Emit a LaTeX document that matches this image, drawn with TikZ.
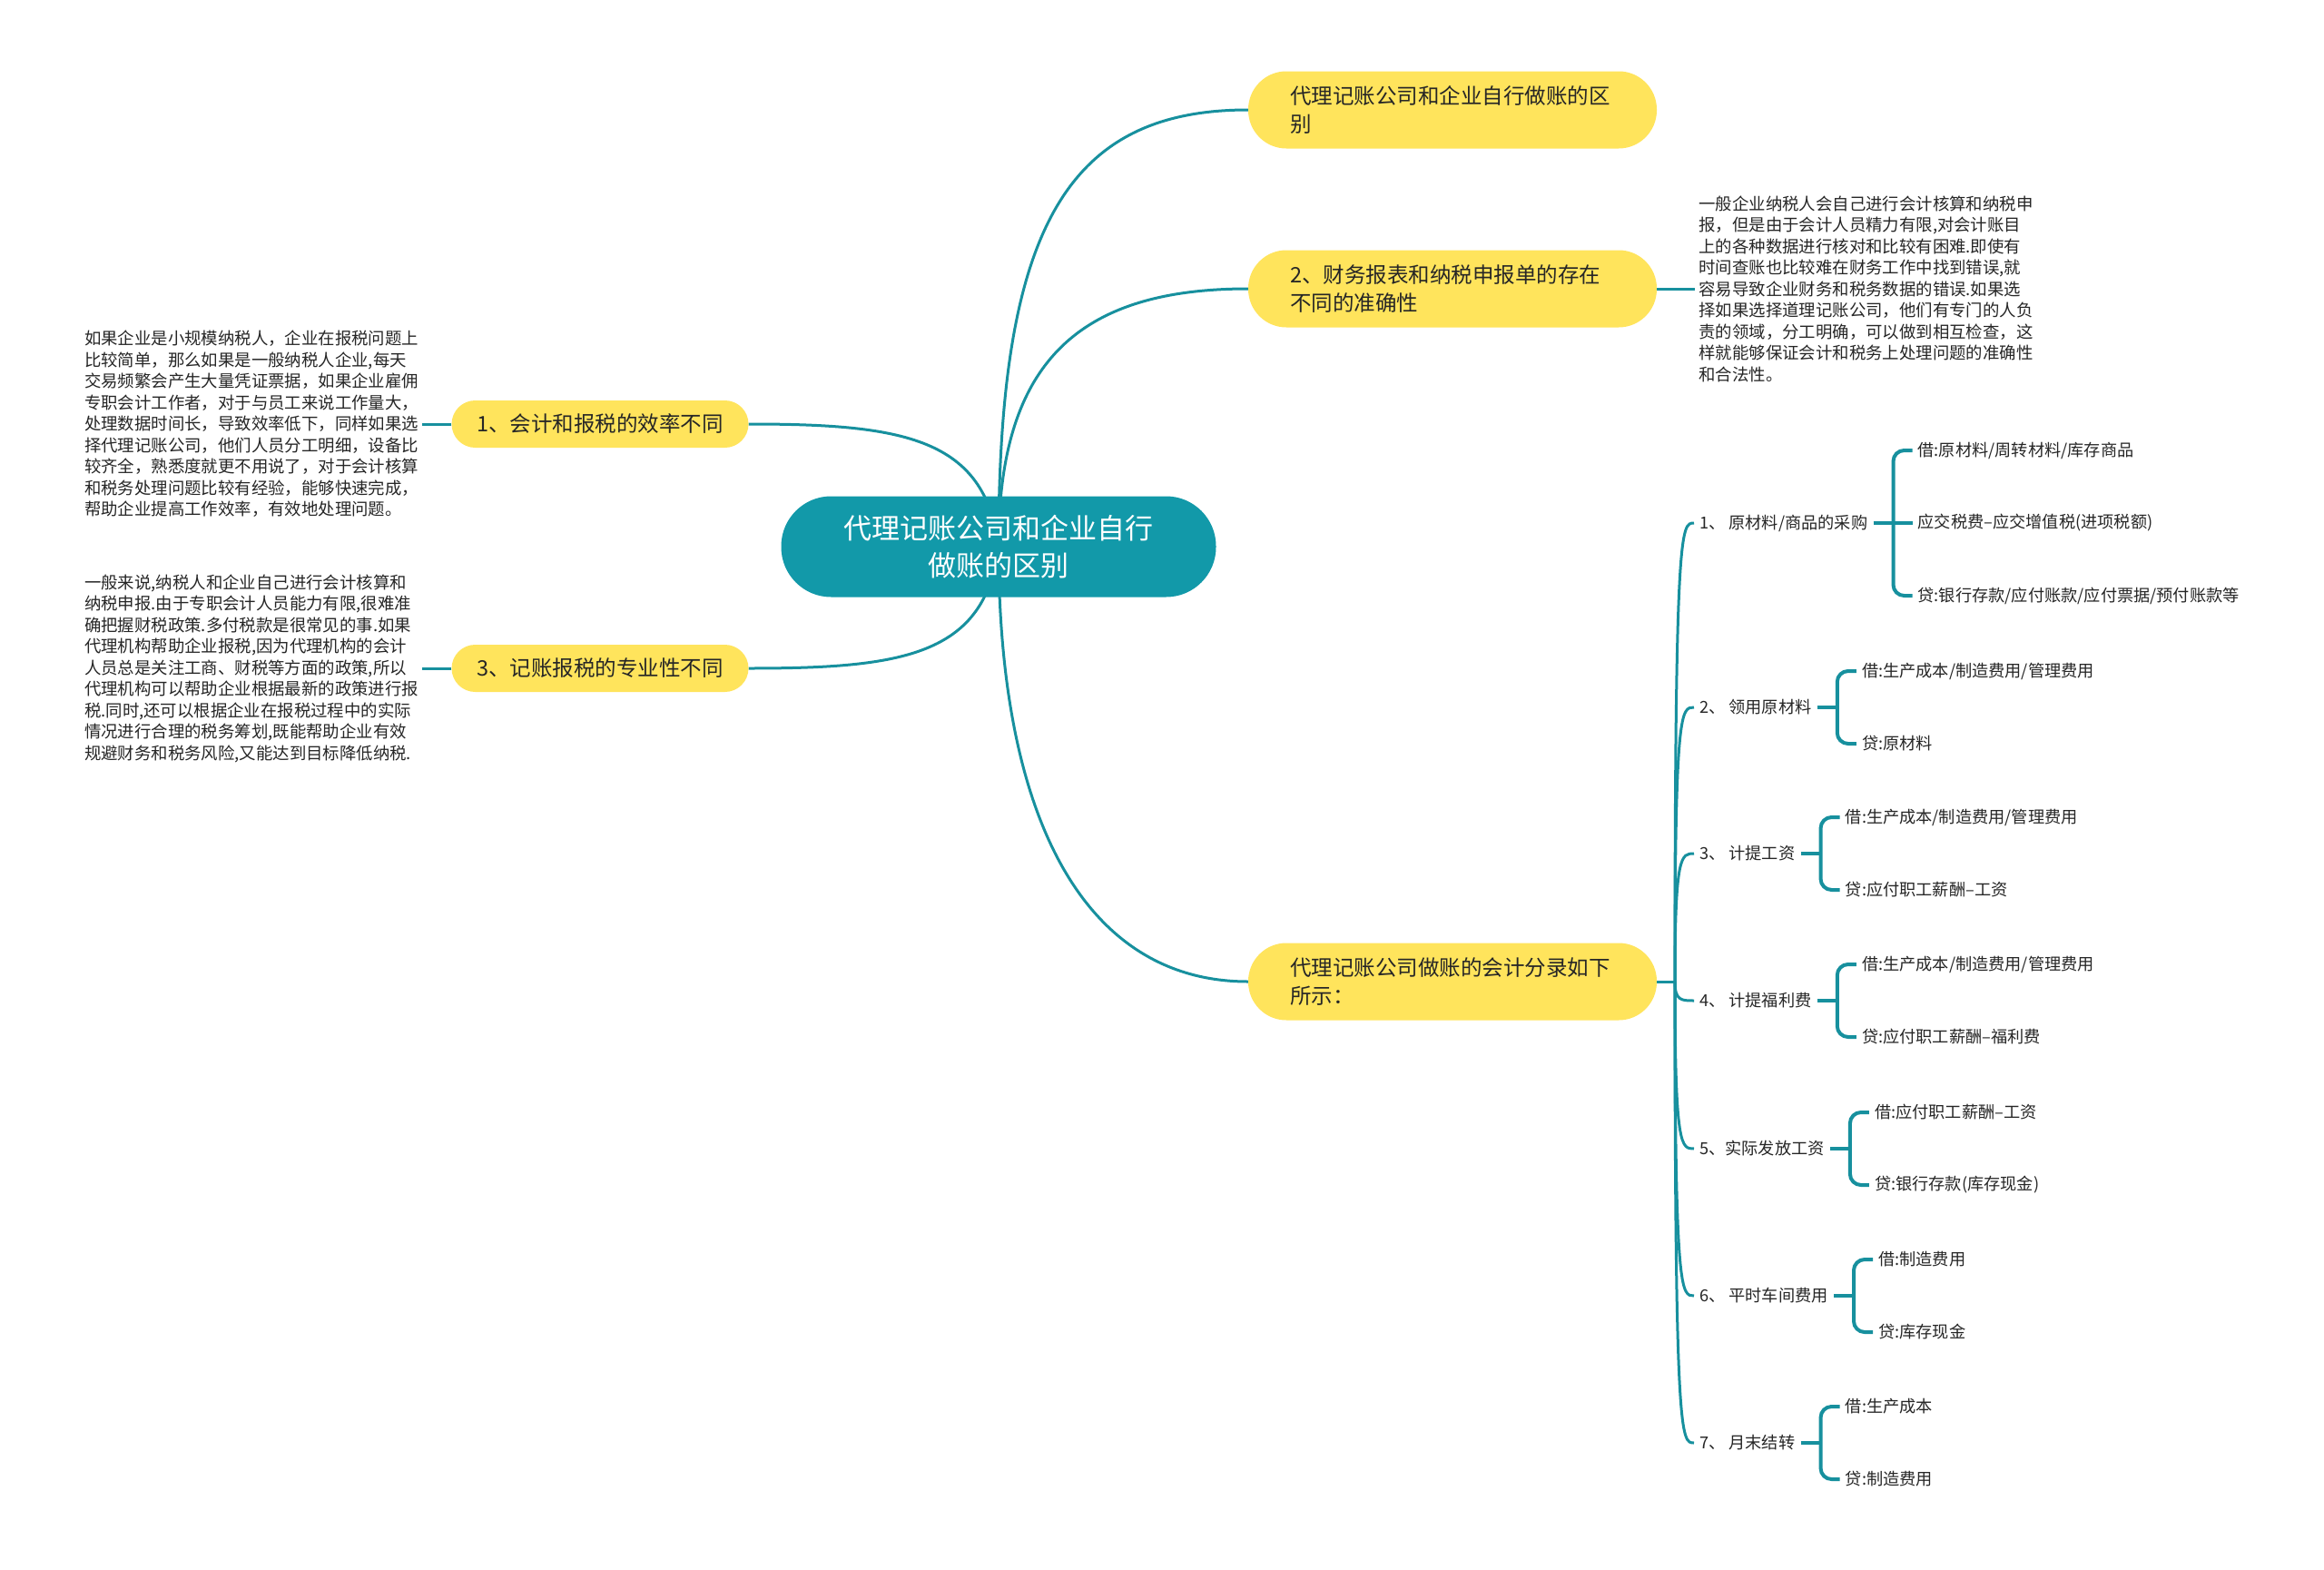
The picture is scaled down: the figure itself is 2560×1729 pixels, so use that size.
\documentclass[tikz,border=0pt]{standalone}
\usepackage{fontspec}
\setmainfont{Noto Sans CJK SC}
\usetikzlibrary{positioning,backgrounds}
\definecolor{cteal}{HTML}{1299A9}
\definecolor{cline}{HTML}{17909E}
\definecolor{cyellow}{HTML}{FFE45C}
\definecolor{ctext}{HTML}{262626}
\tikzset{
  root/.style={fill=cteal, text=white, rounded corners=55pt, minimum width=479pt, minimum height=111pt, align=center, font=\fontsize{31}{41}\selectfont},
  topic/.style={fill=cyellow, text=ctext, rounded corners=42pt, text width=358pt, inner xsep=46pt, minimum height=85pt, align=left, font=\fontsize{23.5}{31}\selectfont},
  subtopic/.style={fill=cyellow, text=ctext, rounded corners=26pt, minimum width=327pt, minimum height=52pt, align=center, font=\fontsize{23.5}{31}\selectfont},
  note/.style={text=ctext, inner sep=4pt, align=left, font=\fontsize{18.4}{23.5}\selectfont},
  item/.style={text=ctext, inner xsep=6pt, inner ysep=2pt, font=\fontsize{18.2}{22}\selectfont},
  leaf/.style={item},
  branch/.style={draw=cline, line width=3pt},
  bline/.style={draw=cline, line width=4pt, rounded corners=12pt},
}
\begin{document}
\begin{tikzpicture}[x=1pt, y=-1pt, node distance=30pt]
  \path[use as bounding box] (0,0) rectangle (2560,1729);

  % center and main topics
  \node[root] (root) at (1100,602) {代理记账公司和企业自行\\做账的区别};
  \node[topic] (t1) at (1600,121) {代理记账公司和企业自行做账的区\\别};
  \node[topic] (t2) at (1600,318) {2、财务报表和纳税申报单的存在\\不同的准确性};
  \node[topic] (t4) at (1600,1081) {代理记账公司做账的会计分录如下\\所示：};
  \node[subtopic] (lt1) at (661,467) {1、会计和报税的效率不同};
  \node[subtopic] (lt3) at (661,736) {3、记账报税的专业性不同};

  % notes
  \node[note, left=32pt of lt1] (n1) {如果企业是小规模纳税人，企业在报税问题上\\比较简单，那么如果是一般纳税人企业,每天\\交易频繁会产生大量凭证票据，如果企业雇佣\\专职会计工作者，对于与员工来说工作量大，\\处理数据时间长，导致效率低下，同样如果选\\择代理记账公司，他们人员分工明细，设备比\\较齐全，熟悉度就更不用说了，对于会计核算\\和税务处理问题比较有经验，能够快速完成，\\帮助企业提高工作效率，有效地处理问题。};
  \node[note, left=32pt of lt3] (n3) {一般来说,纳税人和企业自己进行会计核算和\\纳税申报.由于专职会计人员能力有限,很难准\\确把握财税政策.多付税款是很常见的事.如果\\代理机构帮助企业报税,因为代理机构的会计\\人员总是关注工商、财税等方面的政策,所以\\代理机构可以帮助企业根据最新的政策进行报\\税.同时,还可以根据企业在报税过程中的实际\\情况进行合理的税务筹划,既能帮助企业有效\\规避财务和税务风险,又能达到目标降低纳税.};
  \node[note, right=42pt of t2] (n2) {一般企业纳税人会自己进行会计核算和纳税申\\报，但是由于会计人员精力有限,对会计账目\\上的各种数据进行核对和比较有困难.即使有\\时间查账也比较难在财务工作中找到错误,就\\容易导致企业财务和税务数据的错误.如果选\\择如果选择道理记账公司，他们有专门的人负\\责的领域，分工明确，可以做到相互检查，这\\样就能够保证会计和税务上处理问题的准确性\\和合法性。};

  % entries
  \coordinate (hub) at (1845,1081);
  \node[item, anchor=west] (it1) at (1866,576) {1、 原材料/商品的采购};
  \node[item, anchor=west] (it2) at (1866,779) {2、 领用原材料};
  \node[item, anchor=west] (it3) at (1866,940) {3、 计提工资};
  \node[item, anchor=west] (it4) at (1866,1102) {4、 计提福利费};
  \node[item, anchor=west] (it5) at (1866,1265) {5、实际发放工资};
  \node[item, anchor=west] (it6) at (1866,1427) {6、 平时车间费用};
  \node[item, anchor=west] (it7) at (1866,1589) {7、 月末结转};

  \node[leaf, right=43pt of it1, yshift=80pt] (c11) {借:原材料/周转材料/库存商品};
  \node[leaf, right=43pt of it1] (c12) {应交税费–应交增值税(进项税额)};
  \node[leaf, right=43pt of it1, yshift=-80pt] (c13) {贷:银行存款/应付账款/应付票据/预付账款等};
  \node[leaf, right=43pt of it2, yshift=40pt] (c21) {借:生产成本/制造费用/管理费用};
  \node[leaf, right=43pt of it2, yshift=-40pt] (c22) {贷:原材料};
  \node[leaf, right=43pt of it3, yshift=40pt] (c31) {借:生产成本/制造费用/管理费用};
  \node[leaf, right=43pt of it3, yshift=-40pt] (c32) {贷:应付职工薪酬–工资};
  \node[leaf, right=43pt of it4, yshift=40pt] (c41) {借:生产成本/制造费用/管理费用};
  \node[leaf, right=43pt of it4, yshift=-40pt] (c42) {贷:应付职工薪酬–福利费};
  \node[leaf, right=43pt of it5, yshift=40pt] (c51) {借:应付职工薪酬–工资};
  \node[leaf, right=43pt of it5, yshift=-40pt] (c52) {贷:银行存款(库存现金)};
  \node[leaf, right=43pt of it6, yshift=40pt] (c61) {借:制造费用};
  \node[leaf, right=43pt of it6, yshift=-40pt] (c62) {贷:库存现金};
  \node[leaf, right=43pt of it7, yshift=40pt] (c71) {借:生产成本};
  \node[leaf, right=43pt of it7, yshift=-40pt] (c72) {贷:制造费用};

  % connectors
  \begin{scope}[on background layer]
    \fill[white] (0,0) rectangle (2560,1729);
    \draw[branch] (root.center) .. controls +(0,-350) and +(-200,0) .. (t1.west);
    \draw[branch] (root.center) .. controls +(0,-200) and +(-190,0) .. (t2.west);
    \draw[branch] (root.center) .. controls +(0,300) and +(-180,0) .. (t4.west);
    \draw[branch] (root.center) .. controls +(-15,-120) and +(170,0) .. (lt1.east);
    \draw[branch] (root.center) .. controls +(-15,120) and +(170,0) .. (lt3.east);
  \end{scope}
  \draw[branch] (lt1.west) -- (n1.east);
  \draw[branch] (lt3.west) -- (n3.east);
  \draw[branch] (t2.east) -- (n2.west);
  \draw[branch] (t4.east) -- (hub);
  \foreach \k in {1,...,7}
    \draw[branch] (hub) .. controls (hub |- it\k.west) and ([xshift=-14pt]it\k.west) .. (it\k.west);

  \draw[bline] (it1.east) -- (c12.west);
  \draw[bline] (c11.west) -- ++(-21pt,0pt) |- (c13.west);
  \foreach \k in {2,...,7} {
    \draw[bline] (it\k.east) -- ([xshift=-21pt]c\k1.west |- it\k.east);
    \draw[bline] (c\k1.west) -- ++(-21pt,0pt) |- (c\k2.west);
  }
\end{tikzpicture}
\end{document}
